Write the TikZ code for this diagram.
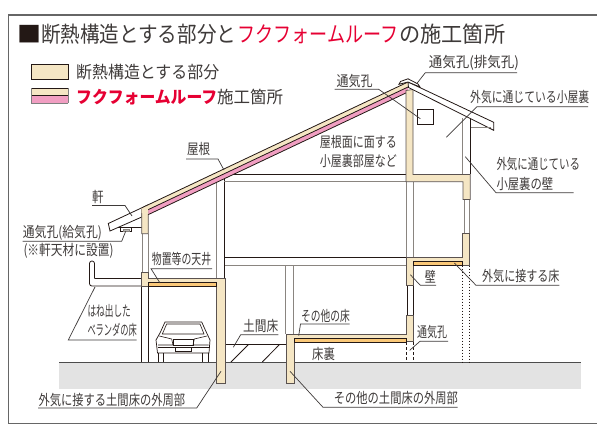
\documentclass[tikz,border=0pt]{standalone}
\usepackage{fontspec}
\usepackage{graphicx}
\newfontfamily\jp{Noto Sans CJK JP}[Language=Japanese]
\definecolor{cream}{HTML}{F5E6C4}
\definecolor{orangeb}{HTML}{FAC878}
\definecolor{pinkb}{HTML}{F19EC2}
\definecolor{redt}{HTML}{E60033}
\definecolor{ink}{HTML}{231815}
\definecolor{txt}{HTML}{3E3A39}
\definecolor{gline}{HTML}{8A8580}
\definecolor{ground}{HTML}{E3E3E3}
\newcommand\tw[2]{\resizebox{#1pt}{\height}{#2}}
\tikzset{
  lab/.style={inner sep=0pt,anchor=west,text=txt,font=\jp\fontsize{14.5}{14.5}\selectfont},
  legendlab/.style={inner sep=0pt,anchor=west,text=txt,font=\jp\fontsize{17}{17}\selectfont},
  titlelab/.style={inner sep=0pt,anchor=west,text=txt,font=\jp\fontsize{22}{22}\selectfont},
  ldr/.style={draw=txt,line width=0.7pt},
  ins/.style={fill=cream,draw=ink!75,line width=0.7pt,line join=miter},
  orng/.style={fill=orangeb,draw=ink,line width=0.7pt},
  dk/.style={draw=ink,line width=0.8pt},
  gy/.style={draw=gline,line width=0.9pt},
  frameln/.style={draw=black!60,line width=1.1pt},
}
\begin{document}
\begin{tikzpicture}[x=1pt,y=-1pt]
\useasboundingbox (0,0) rectangle (597,428);
\fill[white] (0,0) rectangle (597,428);
% frame
\draw[frameln] (597,15) -- (8.7,15) -- (8.7,423.7) -- (597,423.7);
% title
\node[titlelab,text=ink] (t0) at (17.5,34) {\tw{24}{■}};
\node[titlelab] (t1) at (41,34) {\tw{195}{断熱構造とする部分と}};
\node[titlelab,text=redt] (t2) at (237,34) {\tw{161}{フクフォームルーフ}};
\node[titlelab] (t3) at (399,34) {\tw{106}{の施工箇所}};
% legend
\draw[ins,draw=ink] (31,64.5) rectangle (68,79.3);
\fill[cream] (31,88) rectangle (68,95.5);
\fill[pinkb] (31,95.5) rectangle (68,103);
\draw[ink,line width=0.7pt] (31,88) -- (68,88) (31,95.5) -- (68,95.5);
\draw[black!50,line width=1pt] (31,103) -- (68,103);
\draw[black!50,line width=0.6pt] (31,88) -- (31,103) (68,88) -- (68,103);
\node[legendlab] (l1) at (76,72) {\tw{143}{断熱構造とする部分}};
\node[legendlab,text=redt,font=\jp\bfseries\fontsize{17}{17}\selectfont] (l2) at (76,97) {\tw{141}{フクフォームルーフ}};
\node[legendlab] (l3) at (217,97) {\tw{66}{施工箇所}};
% ground
\fill[ground] (59,362) rectangle (581,388.7);
\draw[draw=black!70,line width=0.9pt] (59,362) -- (581,362);
% slab
\draw[dk] (216.7,344.7) -- (286,344.7);
\draw[dk] (231,362) -- (248.3,344.7) (262.3,362) -- (279.3,344.7);
% eave left
\draw[dk,fill=white] (108.3,223.5) -- (142,207.7) -- (142,216.9) -- (110,231) -- cycle;
\draw[dk] (118,227) -- (142,227);
\draw[dk,fill=white] (120,227) rectangle (131.7,231.7);
\draw[gy,fill=gline!60] (123,229.3) rectangle (129,231.7);
% walls
\draw[gy] (142.7,233.7) -- (142.7,272.7) (148.3,233.7) -- (148.3,272.7);
\draw[dk] (141,286) -- (141,362);
\draw[dk] (148.3,286) -- (148.3,362);
\draw[gy] (216.7,178) -- (216.7,279);
\draw[dk] (224.3,172) -- (224.3,279);
\draw[dk] (224.3,174.3) -- (406,174.3);
\draw[gy] (224.3,181.7) -- (406,181.7);
\draw[dk] (225,257.3) -- (406,257.3);
\draw[gy] (225,265.3) -- (406,265.3);
\draw[gy] (285.8,265.3) -- (285.8,334.3) (293.5,265.3) -- (293.5,334.3);
\draw[gy] (406,181.7) -- (406,257.3) (413.3,181.7) -- (413.3,257.3);
\draw[dk] (407,285.3) -- (407,315.3) (413,285.3) -- (413,315.3);
\draw[gy] (464.3,199.5) -- (464.3,233.7) (469,199.5) -- (469,233.7);
\draw[gy] (462.7,118) -- (462.7,174.3);
\draw[dk] (470.3,112) -- (470.3,174.3);
\draw[dk,dash pattern=on 3pt off 2pt] (406,342.3) -- (406,362) (413,342.3) -- (413,362);
\draw[dk,dash pattern=on 1.5pt off 1.5pt] (462,265.7) -- (462,362) (469.7,265.7) -- (469.7,362);
% balcony
\draw[dk,rounded corners=2.4pt] (94.5,278.7) -- (94.5,261) -- (89.5,261) -- (89.5,286) -- (141,286);
\draw[dk] (94.5,278.7) -- (141,278.7);
% insulation: left ceiling
\draw[ins] (141.7,272.7) -- (148.3,272.7) -- (148.3,278.7) -- (216.7,278.7) -- (225,278.7) -- (225,383.7) -- (216.7,383.7) -- (216.7,286.3) -- (148.3,286.3) -- (141.7,286.3) -- cycle;
\draw[orng] (148.3,282.4) rectangle (216.7,286.3);
% insulation: eave wall
\draw[ins] (141.7,207.8) -- (141.7,233.7) -- (148.3,233.7) -- (148.3,204.6) -- cycle;
% roof layers
\fill[cream] (141.7,207.8) -- (408,82) -- (408,87) -- (148.3,209.6) -- (148.3,214) -- (141.7,213) -- cycle;
\fill[pinkb] (148.3,209.6) -- (408,87) -- (408,92) -- (148.3,214.6) -- cycle;
\draw[dk] (148.3,209.6) -- (408,87);
\draw[dk] (148.3,214.6) -- (408,92);
\draw[dk] (142,207.7) -- (408,82);
% attic insulation
\draw[ins] (406,90.5) -- (413,89.5) -- (413,174.5) -- (470.2,174.5) -- (470.2,199.5) -- (463,199.5) -- (463,181.7) -- (406,181.7) -- cycle;
% right roof
\draw[dk,fill=white] (408,82) -- (493.7,122.3) -- (493.7,130.3) -- (408.5,87.5) -- cycle;
\draw[gy] (470.3,127.6) -- (491,127.6);
\draw[dk] (470.3,118.5) -- (470.3,130);
% ridge cap
\draw[dk,fill=white] (399,84.3) -- (400.5,81.5) -- (408,78.8) -- (418,84) -- (420,87) -- (408,82) -- cycle;
% vent
\draw[dk,fill=white] (417,109.3) rectangle (433,124.3);
% first floor insulation right
\draw[ins] (462,233.7) -- (469.7,233.7) -- (469.7,265.5) -- (413,265.5) -- (413,285.3) -- (406,285.3) -- (406,257.3) -- (462,257.3) -- cycle;
\draw[orng] (413,261.4) rectangle (462,265.5);
% lower floor insulation
\draw[ins] (406,315.3) -- (413,315.3) -- (413,341.5) -- (406,341.5) -- (406,342.3) -- (294,342.3) -- (294,383.3) -- (286,383.3) -- (286,334.6) -- (406,334.6) -- cycle;
\draw[orng] (294,338.6) rectangle (406,342.3);
% car
\draw[dk,fill=white,line width=0.7pt] (157.5,353) -- (156,340) -- (160,333) -- (165,322) -- (201.7,322) -- (206.7,333) -- (210,340) -- (209,353) -- cycle;
\draw[dk,line width=0.6pt] (166.7,324) -- (200,324) -- (204,334) -- (162.3,334) -- cycle;
\draw[dk,line width=0.6pt] (159.3,336) -- (171.7,339) -- (173,345) -- (158,345);
\draw[dk,line width=0.6pt] (207,336) -- (194.3,339) -- (193,345) -- (208.5,345);
\draw[dk,line width=0.6pt] (173.3,339) rectangle (193,345);
\draw[dk,line width=0.6pt] (157.5,347.5) -- (209,347.5);
\draw[dk,line width=0.6pt] (175,347.5) rectangle (191.7,351.5);
\draw[dk,line width=0.7pt] (158,353) -- (158,362) (163,353) -- (163,362) (202,353) -- (202,362) (208,353) -- (208,362);
% labels
\node[lab] (n01) at (187,149) {\tw{23}{屋根}};
\node[lab] (n02) at (92,197) {\tw{11.5}{軒}};
\node[lab] (n03) at (336.3,81) {\tw{36}{通気孔}};
\node[lab] (n04) at (428.7,63) {\tw{90}{通気孔(排気孔)}};
\node[lab] (n05) at (470,97.3) {\tw{119}{外気に通じている小屋裏}};
\node[lab] (n06) at (319.7,141.7) {\tw{77}{屋根面に面する}};
\node[lab] (n07) at (319.7,160.7) {\tw{77}{小屋裏部屋など}};
\node[lab] (n08) at (496.3,164.3) {\tw{83.5}{外気に通じている}};
\node[lab] (n09) at (496.3,183.7) {\tw{56.7}{小屋裏の壁}};
\node[lab] (n10) at (424.7,276.3) {\tw{11}{壁}};
\node[lab] (n11) at (482,276.3) {\tw{77.3}{外気に接する床}};
\node[lab] (n12) at (417,332.3) {\tw{30}{通気孔}};
\node[lab] (n13) at (301,316.3) {\tw{48.7}{その他の床}};
\node[lab] (n14) at (312,353.7) {\tw{22.7}{床裏}};
\node[lab] (n15) at (333.7,398) {\tw{124}{その他の土間床の外周部}};
\node[lab] (n16) at (38.3,399.7) {\tw{146.7}{外気に接する土間床の外周部}};
\node[lab] (n17) at (87.3,311.3) {\tw{43.4}{はね出した}};
\node[lab] (n18) at (87.3,329.7) {\tw{49.4}{ベランダの床}};
\node[lab] (n19) at (22.7,233) {\tw{79}{通気孔(給気孔)}};
\node[lab] (n20) at (23.3,251.3) {\tw{90}{(※軒天材に設置)}};
\node[lab] (n21) at (151.7,259) {\tw{59.3}{物置等の天井}};
\node[lab] (n22) at (243,326.3) {\tw{35}{土間床}};
% leaders
\coordinate (a01) at (186,159); \coordinate (b01) at (218,159); \coordinate (c01) at (224,170);
\draw[ldr] (a01) -- (b01) -- (c01);
\coordinate (a02) at (92,205.5); \coordinate (b02) at (125,205.5); \coordinate (c02) at (132,216);
\draw[ldr] (a02) -- (b02) -- (c02);
\coordinate (a03) at (334.7,89.3); \coordinate (b03) at (378.7,89.3); \coordinate (c03) at (420.3,118.7);
\draw[ldr] (a03) -- (b03) -- (c03);
\coordinate (a04) at (517,72.7); \coordinate (b04) at (425.3,72.7); \coordinate (c04) at (417,83.3);
\draw[ldr] (a04) -- (b04) -- (c04);
\coordinate (a05) at (588,106.7); \coordinate (b05) at (477,106.7); \coordinate (c05) at (446.3,137.3);
\draw[ldr] (a05) -- (b05) -- (c05);
\coordinate (a08) at (573.7,192.7); \coordinate (b08) at (496,192.7); \coordinate (c08) at (465.3,156.7);
\draw[ldr] (a08) -- (b08) -- (c08);
\coordinate (a10) at (436,285.3); \coordinate (b10) at (420.3,285.3); \coordinate (c10) at (410.3,274.7);
\draw[ldr] (a10) -- (b10) -- (c10);
\coordinate (a11) at (559.3,285.3); \coordinate (b11) at (476,285.3); \coordinate (c11) at (454.3,263);
\draw[ldr] (a11) -- (b11) -- (c11);
\coordinate (a12) at (448,341.3); \coordinate (b12) at (420,341.3); \coordinate (c12) at (409.7,350.3);
\draw[ldr] (a12) -- (b12) -- (c12);
\coordinate (a13) at (349.7,324); \coordinate (b13) at (300.5,324); \coordinate (c13) at (298.7,335.7);
\draw[ldr] (a13) -- (b13) -- (c13);
\coordinate (a15) at (457.7,407.3); \coordinate (b15) at (323,407.3); \coordinate (c15) at (290,371.3);
\draw[ldr] (a15) -- (b15) -- (c15);
\coordinate (a16) at (38,408); \coordinate (b16) at (196.7,408); \coordinate (c16) at (221,371.3);
\draw[ldr] (a16) -- (b16) -- (c16);
\coordinate (a18) at (136.7,340); \coordinate (b18) at (68.3,340); \coordinate (c18) at (95,287);
\draw[ldr] (a18) -- (b18) -- (c18);
\coordinate (a19) at (22.7,241.3); \coordinate (b19) at (121.7,241.3); \coordinate (c19) at (125.7,231.3);
\draw[ldr] (a19) -- (b19) -- (c19);
\coordinate (a21) at (212,268.7); \coordinate (b21) at (151,268.7); \coordinate (c21) at (160,283);
\draw[ldr] (a21) -- (b21) -- (c21);
\coordinate (a22) at (278.3,334.7); \coordinate (b22) at (240.7,334.7); \coordinate (c22) at (233.3,347.3);
\draw[ldr] (a22) -- (b22) -- (c22);
\end{tikzpicture}
\end{document}
